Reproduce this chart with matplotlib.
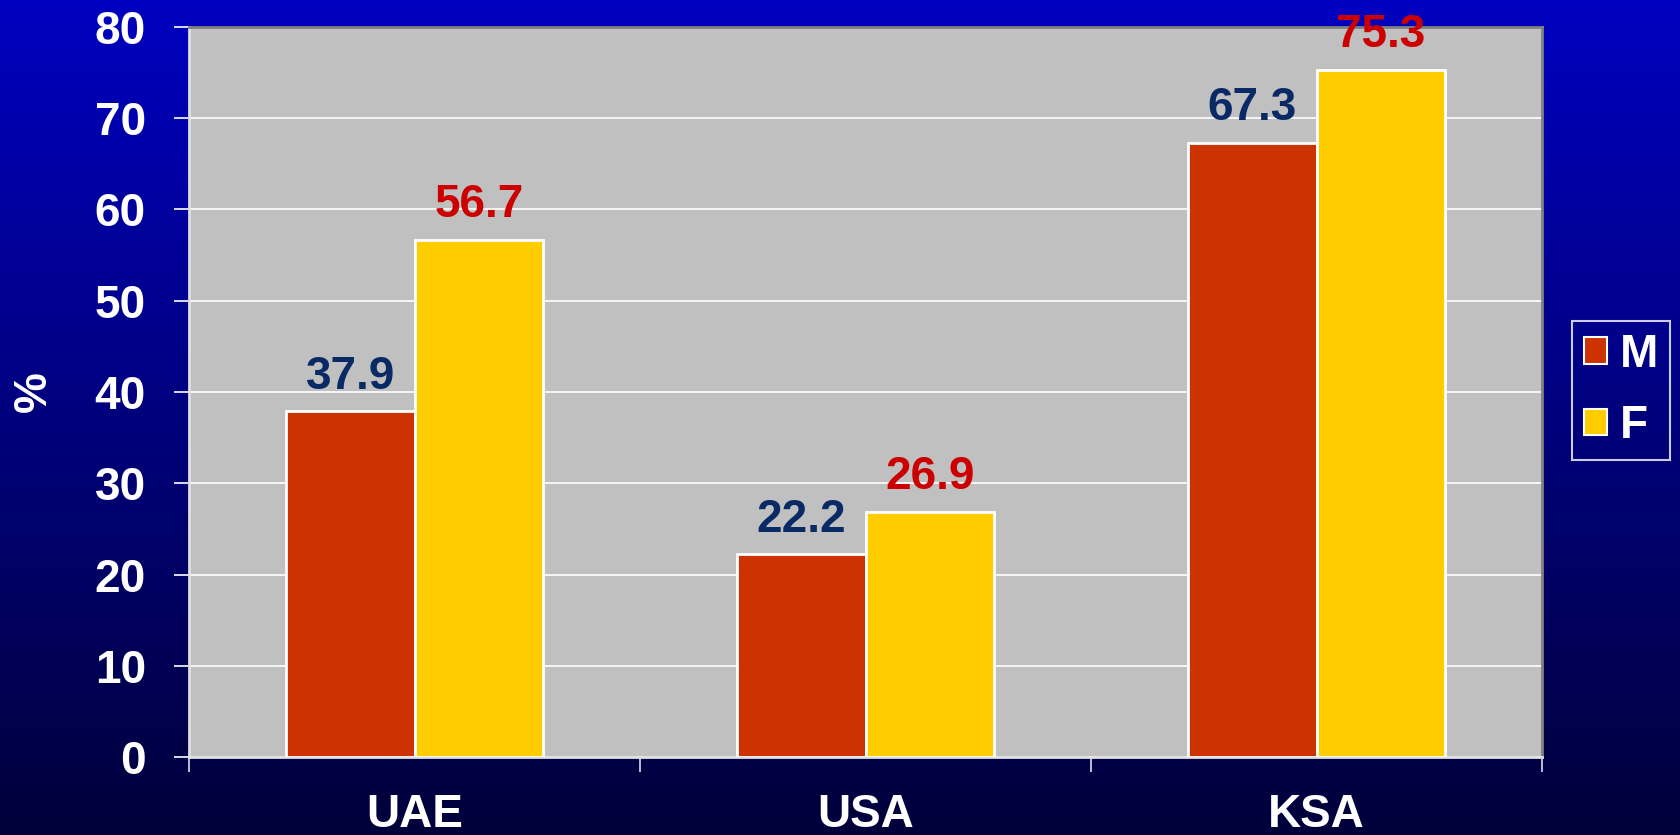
import numpy as np
import matplotlib
matplotlib.use("Agg")
import matplotlib.pyplot as plt
from matplotlib.patches import Patch

countries = ["UAE", "USA", "KSA"]
male = [37.9, 22.2, 67.3]
female = [56.7, 26.9, 75.3]
series_names = ["M", "F"]

plt.rcParams['font.family'] = ['Liberation Sans', 'DejaVu Sans']
plt.rcParams['font.weight'] = 'bold'

fig = plt.figure(figsize=(16.8, 8.35), dpi=100)

# blue gradient background
bg = fig.add_axes([0, 0, 1, 1], zorder=-10)
grad = np.linspace(0, 1, 256)[:, None]
top = np.array([0, 0, 192]) / 255
bot = np.array([0, 0, 58]) / 255
img = top[None, None, :] * (1 - grad[:, :, None]) + bot[None, None, :] * grad[:, :, None]
bg.imshow(img, aspect='auto', extent=[0, 1, 0, 1])
bg.axis('off')

ax = fig.add_axes([0.1125, 0.0934, 0.8055, 0.8743])
ax.set_facecolor('#C0C0C0')

x = np.arange(len(countries))
w = 0.285
bm = ax.bar(x - w / 2, male, w, color='#CC3300', edgecolor='white', linewidth=2, zorder=3)
bf = ax.bar(x + w / 2, female, w, color='#FFCC00', edgecolor='white', linewidth=2, zorder=3)

fs = 33
for rect, v in zip(bm, male):
    ax.annotate(f"{v}", (rect.get_x() + rect.get_width() / 2, v), xytext=(0, 9),
                textcoords='offset points', ha='center', va='bottom',
                fontsize=fs, fontweight='bold', color='#0A2A66', annotation_clip=False)
for rect, v in zip(bf, female):
    ax.annotate(f"{v}", (rect.get_x() + rect.get_width() / 2, v), xytext=(0, 9),
                textcoords='offset points', ha='center', va='bottom',
                fontsize=fs, fontweight='bold', color='#CC0000', annotation_clip=False)

ax.set_ylim(0, 80)
ax.set_xlim(-0.5, 2.5)
ax.set_yticks(range(0, 81, 10))
ax.yaxis.grid(True, color='white', linewidth=1.2, zorder=0)
ax.set_axisbelow(True)

ax.set_xticks(x)
ax.set_xticklabels(countries)
ax.set_xticks(np.arange(-0.5, 3, 1), minor=True)
ax.tick_params(axis='x', which='major', length=0, pad=26, labelsize=fs, labelcolor='white')
ax.tick_params(axis='x', which='minor', length=11, width=1.2, color='#DDDDEE', direction='out')
ax.tick_params(axis='y', length=11, width=1.2, color='white', pad=20, labelsize=fs, labelcolor='white')
for lab in ax.get_xticklabels() + ax.get_yticklabels():
    lab.set_fontweight('bold')

ax.set_ylabel('%', fontsize=fs, fontweight='bold', color='white', labelpad=28)

ax.spines['left'].set_color('#E0E0E0')
ax.spines['bottom'].set_color('#E0E0E0')
ax.spines['top'].set_color('#808080')
ax.spines['right'].set_color('#808080')
for s in ax.spines.values():
    s.set_linewidth(2)

handles = [Patch(facecolor='#CC3300', edgecolor='white', linewidth=1.5),
           Patch(facecolor='#FFCC00', edgecolor='white', linewidth=1.5)]
leg = fig.legend(handles, series_names, loc='center', bbox_to_anchor=(0.9649, 0.5323),
                 fontsize=fs, frameon=True, handlelength=0.52, handleheight=0.52,
                 handletextpad=0.28, labelspacing=0.6, borderpad=0.25, borderaxespad=0,
                 fancybox=False)
leg.get_frame().set_facecolor('none')
leg.get_frame().set_edgecolor('white')
leg.get_frame().set_linewidth(1.5)
for t in leg.get_texts():
    t.set_color('white')
    t.set_fontweight('bold')

fig.savefig('out.png', dpi=100)
